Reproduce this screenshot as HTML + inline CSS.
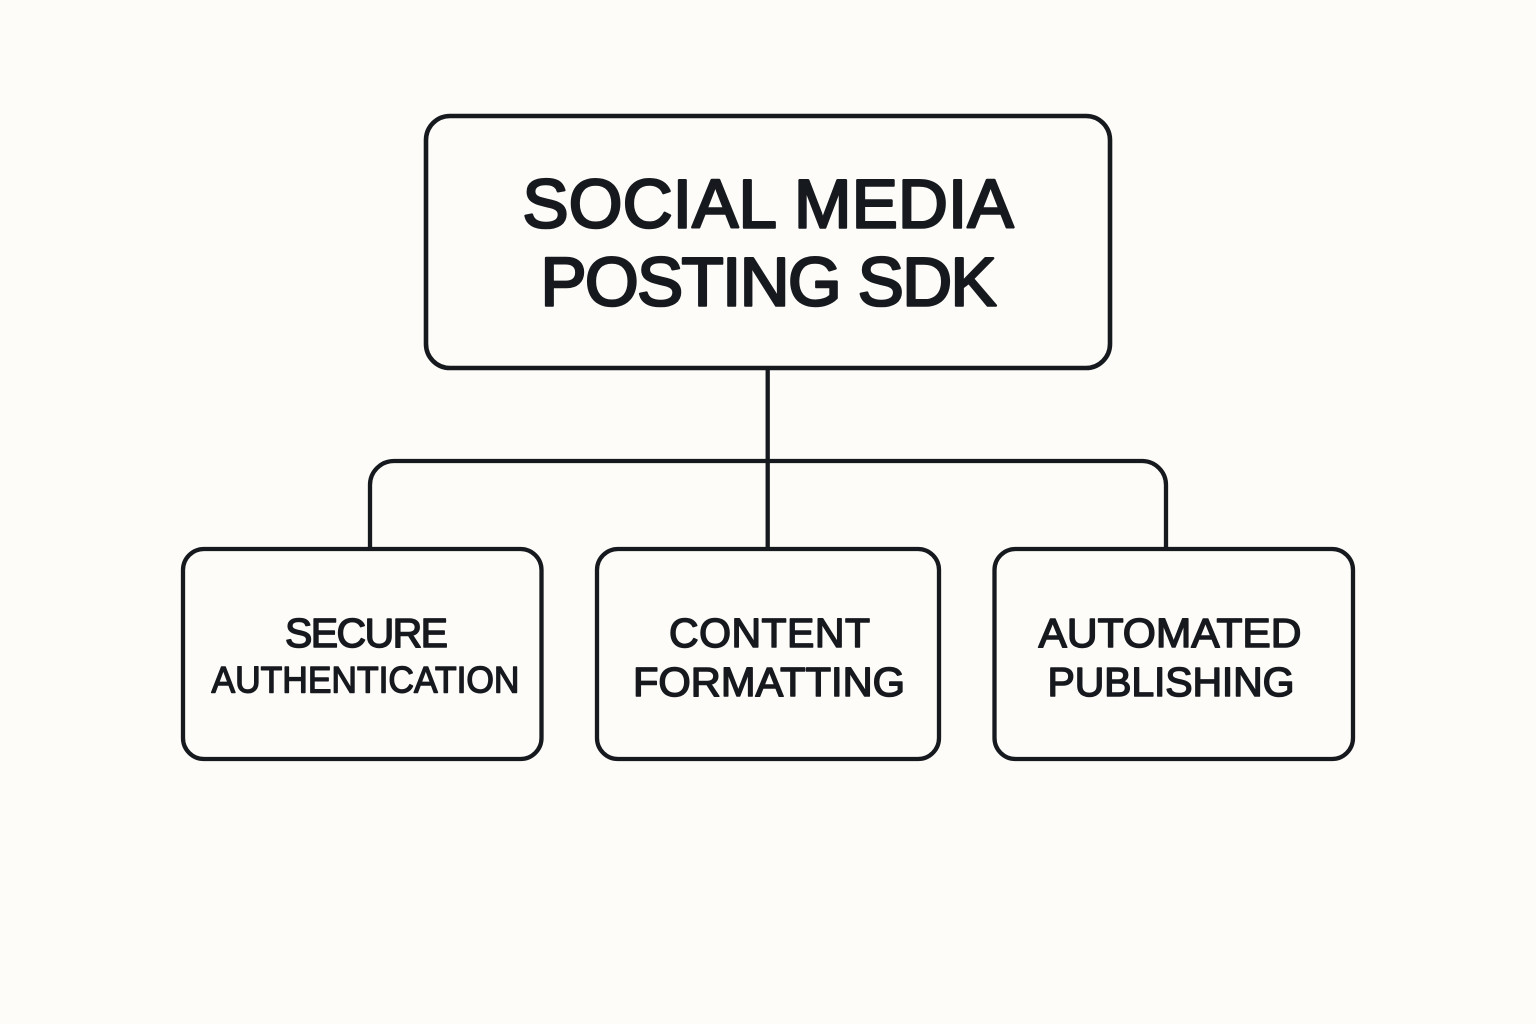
<!DOCTYPE html>
<html>
<head>
<meta charset="utf-8">
<style>
html,body{margin:0;padding:0;background:#fdfcf9;width:1536px;height:1024px;overflow:hidden}
svg{display:block}
text{font-family:"Liberation Sans",sans-serif;fill:#16191e;text-anchor:middle;font-weight:400;stroke:#16191e;stroke-linejoin:round}
.t{font-size:69px;stroke-width:2.6px}
.s{font-size:41px;stroke-width:1.5px}
.a{font-size:37px;stroke-width:1.4px}
</style>
</head>
<body>
<svg width="1536" height="1024" viewBox="0 0 1536 1024">
<rect width="1536" height="1024" fill="#fdfcf9"/>
<g fill="none" stroke="#16191e" stroke-width="4.300">
<rect x="426" y="116" width="684" height="252" rx="24" stroke-width="4.600"/>
<rect x="183" y="549" width="358.500" height="210" rx="21"/>
<rect x="597" y="549" width="342" height="210" rx="21"/>
<rect x="994.500" y="549" width="358.500" height="210" rx="21"/>
<path d="M767.700 368V549"/>
<path d="M370 549V485A24 24 0 0 1 394 461H1142A24 24 0 0 1 1166 485V549"/>
</g>
<text class="t" x="768" y="227.300" textLength="491" lengthAdjust="spacing">SOCIAL MEDIA</text>
<text class="t" x="768.500" y="305.500" textLength="456" lengthAdjust="spacing">POSTING SDK</text>
<text class="s" x="366.500" y="647" textLength="163" lengthAdjust="spacing">SECURE</text>
<text class="a" x="365.500" y="692.500" textLength="308" lengthAdjust="spacingAndGlyphs">AUTHENTICATION</text>
<text class="s" x="769.500" y="647" textLength="201" lengthAdjust="spacing">CONTENT</text>
<text class="s" x="769" y="696" textLength="272" lengthAdjust="spacingAndGlyphs">FORMATTING</text>
<text class="s" x="1170" y="647" textLength="263" lengthAdjust="spacingAndGlyphs">AUTOMATED</text>
<text class="s" x="1171" y="696" textLength="247" lengthAdjust="spacing">PUBLISHING</text>
</svg>
</body>
</html>
